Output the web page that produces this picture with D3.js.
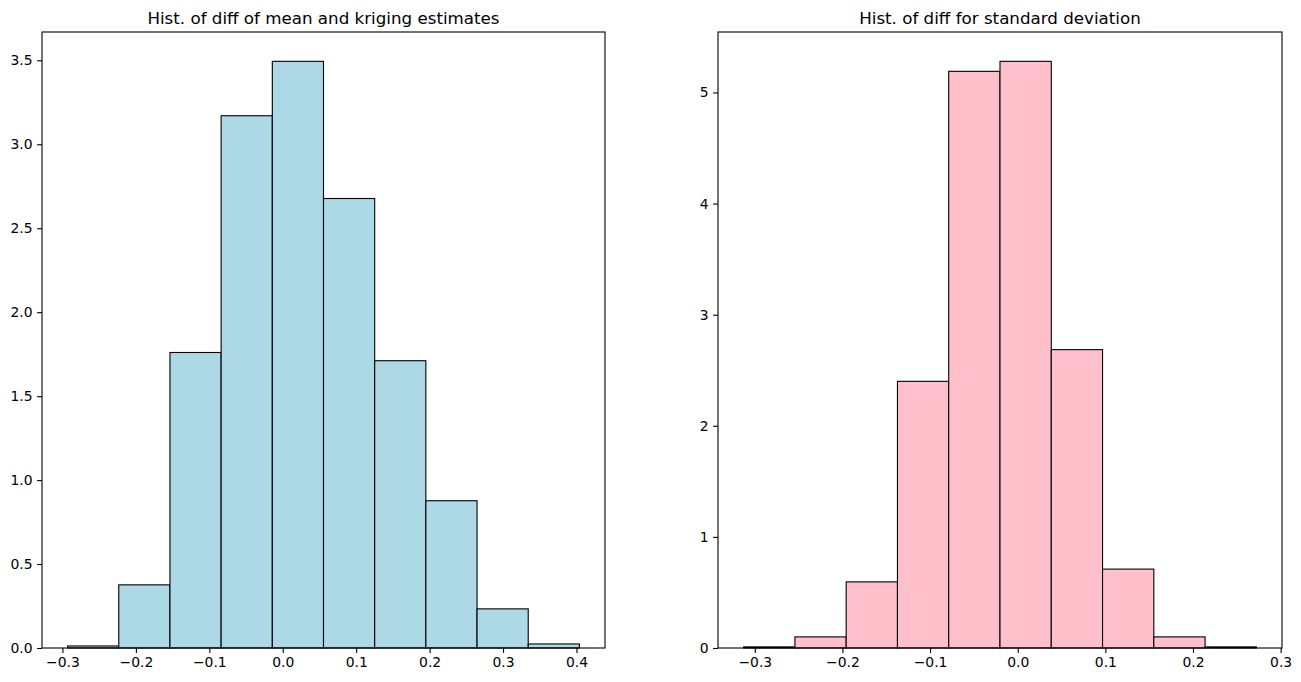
<!DOCTYPE html>
<html>
<head>
<meta charset="utf-8">
<script src="https://cdnjs.cloudflare.com/ajax/libs/d3/7.8.5/d3.min.js"></script>
<style>
  body { margin: 0; background: #ffffff; }
  svg { display: block; font-family: "DejaVu Sans", sans-serif; }
</style>
</head>
<body>
<svg id="chart" width="1301" height="682"></svg>
<script>
// left panel: diff of mean vs kriging estimates (density histogram)
var meanTitle = "Hist. of diff of mean and kriging estimates";
var meanEdges = [-0.293, -0.2233, -0.1536, -0.0839, -0.0142, 0.0555, 0.1252, 0.1949, 0.2646, 0.3343, 0.404];
var meanDensity = [0.012, 0.376, 1.76, 3.17, 3.494, 2.677, 1.711, 0.877, 0.233, 0.024];
var meanXTicks = [-0.3, -0.2, -0.1, 0.0, 0.1, 0.2, 0.3, 0.4];
var meanYTicks = [0, 0.5, 1.0, 1.5, 2.0, 2.5, 3.0, 3.5];

// right panel: diff for standard deviation
var sdTitle = "Hist. of diff for standard deviation";
var sdEdges = [-0.3127, -0.2542, -0.1957, -0.1372, -0.0787, -0.0202, 0.0383, 0.0968, 0.1553, 0.2138, 0.2723];
var sdDensity = [0.01, 0.1, 0.595, 2.40, 5.19, 5.28, 2.685, 0.71, 0.1, 0.01];
var sdXTicks = [-0.3, -0.2, -0.1, 0.0, 0.1, 0.2, 0.3];
var sdYTicks = [0, 1, 2, 3, 4, 5];

var svg = d3.select("#chart");
var plotTop = 32, plotBottom = 648;

function fmt(d, digits) {
  return d3.format("." + digits + "f")(d).replace("-", "\u2212");
}

function drawHist(left, right, title, edges, dens, xt, yt, ydigits, color) {
  var lo = edges[0], hi = edges[edges.length - 1];
  var pad = (hi - lo) * 0.05;
  var x = d3.scaleLinear().domain([lo - pad, hi + pad]).range([left, right]);
  var y = d3.scaleLinear().domain([0, d3.max(dens) * 1.05]).range([plotBottom, plotTop]);

  var g = svg.append("g");

  g.selectAll("rect.bar")
    .data(dens)
    .enter()
    .append("rect")
      .attr("class", "bar")
      .attr("x", function(d, i) { return x(edges[i]); })
      .attr("width", function(d, i) { return x(edges[i + 1]) - x(edges[i]); })
      .attr("y", function(d) { return y(d); })
      .attr("height", function(d) { return y(0) - y(d); })
      .style("fill", color)
      .style("stroke", "#000")
      .style("stroke-width", 1.1);

  var xAxis = g.append("g")
    .attr("transform", "translate(0," + plotBottom + ")")
    .call(d3.axisBottom(x).tickValues(xt).tickSize(4.9).tickPadding(4.5)
      .tickFormat(function(d) { return fmt(d, 1); }));
  var yAxis = g.append("g")
    .attr("transform", "translate(" + left + ",0)")
    .call(d3.axisLeft(y).tickValues(yt).tickSize(4.9).tickPadding(4.5)
      .tickFormat(function(d) { return fmt(d, ydigits); }));

  [xAxis, yAxis].forEach(function(a) {
    a.select(".domain").remove();
    a.selectAll(".tick line").style("stroke", "#000").style("stroke-width", 1.1);
    a.selectAll(".tick text").style("font-size", "13.9px").style("fill", "#000")
      .style("font-family", "'DejaVu Sans', sans-serif");
  });

  // frame (spines)
  g.append("rect")
    .attr("x", left).attr("y", plotTop)
    .attr("width", right - left).attr("height", plotBottom - plotTop)
    .style("fill", "none").style("stroke", "#000").style("stroke-width", 1.1);

  g.append("text")
    .attr("x", (left + right) / 2)
    .attr("y", plotTop - 8.5)
    .attr("text-anchor", "middle")
    .style("font-size", "16.7px")
    .style("fill", "#000")
    .text(title);
}

drawHist(42, 605, meanTitle, meanEdges, meanDensity, meanXTicks, meanYTicks, 1, "#add8e6");
drawHist(718, 1282, sdTitle, sdEdges, sdDensity, sdXTicks, sdYTicks, 0, "#ffc0cb");
</script>
</body>
</html>
